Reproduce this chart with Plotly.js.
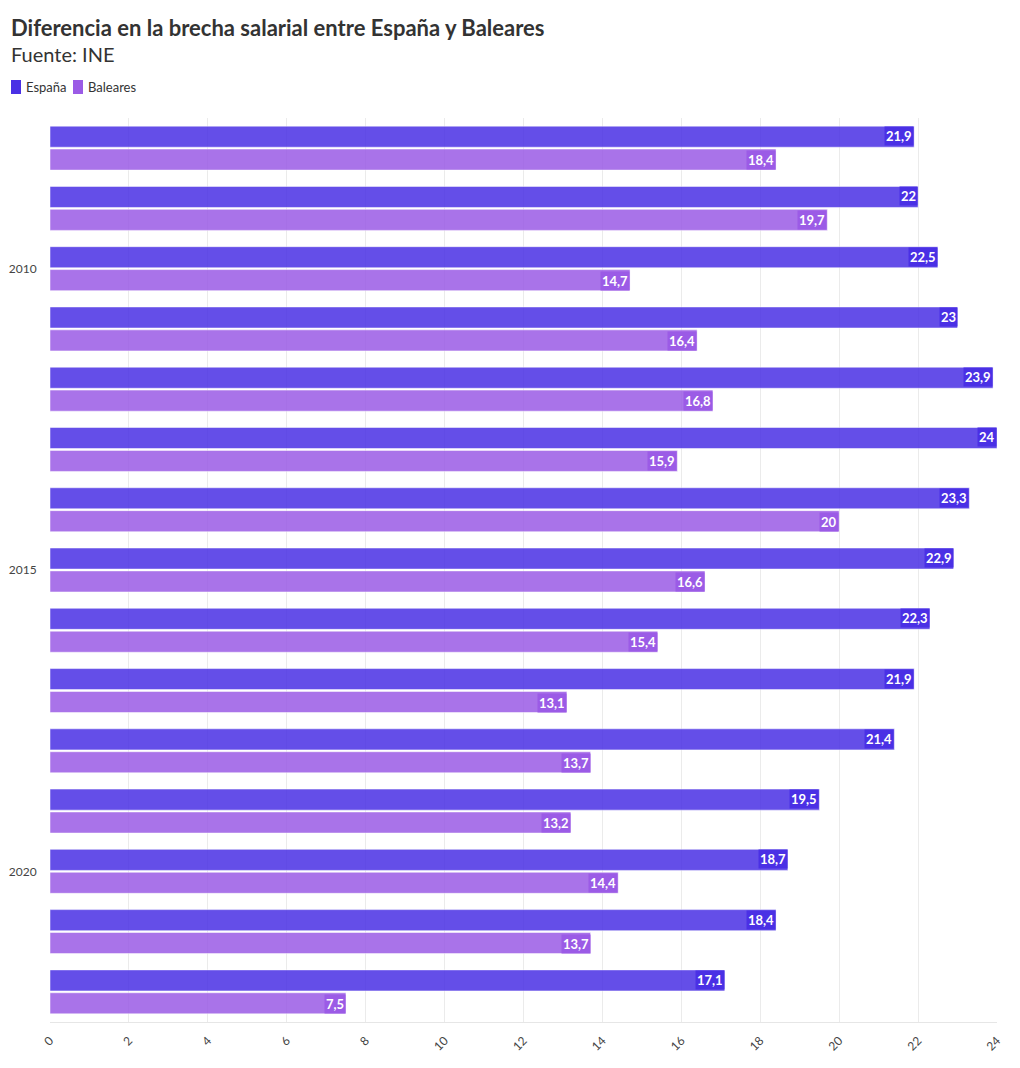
<!DOCTYPE html>
<html><head><meta charset="utf-8">
<script src="https://cdn.plot.ly/plotly-3.0.1.min.js"></script>
<style>body{margin:0;background:#fff}#chart{width:1020px;height:1068px}</style>
</head><body><div id="chart"></div>
<script>
const years = [2008,2009,2010,2011,2012,2013,2014,2015,2016,2017,2018,2019,2020,2021,2022];
const espana = [21.9,22,22.5,23,23.9,24,23.3,22.9,22.3,21.9,21.4,19.5,18.7,18.4,17.1];
const baleares = [18.4,19.7,14.7,16.4,16.8,15.9,20,16.6,15.4,13.1,13.7,13.2,14.4,13.7,7.5];
const xTicks = [0,2,4,6,8,10,12,14,16,18,20,22,24];
const yTicks = [2010,2015,2020];
const seriesNames = ['España','Baleares'];

const cEsp = '#4A30E5', cBal = '#9B5BE6';
const FONT = 'Lato, "Noto Sans", sans-serif';
const W = 1020, H = 1068, ML = 50, MR = 23, MT = 118, MB = 46;
const PW = W - ML - MR, PH = H - MT - MB;
const px = x => (x - ML) / PW;           // pixel -> paper x
const py = y => 1 - (y - MT) / PH;       // pixel -> paper y

const traces = [
  {type:'bar', orientation:'h', name:seriesNames[0], x:espana, y:years, showlegend:false,
   marker:{color:cEsp, opacity:0.85, line:{color:'rgba(255,255,255,0.5)', width:1}}, hoverinfo:'x'},
  {type:'bar', orientation:'h', name:seriesNames[1], x:baleares, y:years, showlegend:false,
   marker:{color:cBal, opacity:0.85, line:{color:'rgba(255,255,255,0.5)', width:1}}, hoverinfo:'x'}
];

const fmt = v => String(v).replace('.', ',');
const annotations = [];
years.forEach((yr,i)=>{
  annotations.push({x:espana[i], y:yr, xref:'x', yref:'y', xanchor:'right', yanchor:'middle', yshift:12,
    text:'<b>'+fmt(espana[i])+'</b>', showarrow:false, bgcolor:cEsp, borderpad:1,
    font:{family:FONT, size:13, color:'#fff'}});
  annotations.push({x:baleares[i], y:yr, xref:'x', yref:'y', xanchor:'right', yanchor:'middle', yshift:-12,
    text:'<b>'+fmt(baleares[i])+'</b>', showarrow:false, bgcolor:cBal, borderpad:1,
    font:{family:FONT, size:13, color:'#fff'}});
});
// titles
annotations.push({xref:'paper', yref:'paper', x:px(9), y:py(12), xanchor:'left', yanchor:'top', showarrow:false,
  text:'<b>Diferencia en la brecha salarial entre España y Baleares</b>', font:{family:FONT, size:22, color:'#333'}});
annotations.push({xref:'paper', yref:'paper', x:px(9), y:py(40), xanchor:'left', yanchor:'top', showarrow:false,
  text:'Fuente: INE', font:{family:FONT, size:20, color:'#333'}});
// legend
const legX = [[11,24],[73,86]];
const legC = [cEsp, cBal];
const shapes = [];
seriesNames.forEach((n,i)=>{
  shapes.push({type:'rect', xref:'paper', yref:'paper', x0:px(legX[i][0]), x1:px(legX[i][0]+10),
    y0:py(80), y1:py(94), fillcolor:legC[i], line:{width:0}});
  annotations.push({xref:'paper', yref:'paper', x:px(legX[i][1]), y:py(87), xanchor:'left', yanchor:'middle',
    showarrow:false, text:n, font:{family:FONT, size:13, color:'#333'}});
});

const layout = {
  width:W, height:H,
  paper_bgcolor:'#fff', plot_bgcolor:'#fff',
  font:{family:FONT, color:'#444', size:12},
  separators:',.',
  showlegend:false,
  margin:{l:ML, r:MR, t:MT, b:MB},
  barmode:'group', bargap:0.24, bargroupgap:0.08,
  xaxis:{range:[0,24], tickvals:xTicks, ticktext:xTicks.map(String), tickangle:-45,
    showgrid:true, gridcolor:'#ebebeb', zeroline:false, showline:true, linecolor:'#e6e6e6',
    ticks:'outside', ticklen:6, tickcolor:'rgba(0,0,0,0)',
    tickfont:{family:FONT, size:12, color:'#444'}, fixedrange:true},
  yaxis:{autorange:'reversed', tickvals:yTicks, ticktext:yTicks.map(String), showgrid:false,
    zeroline:false, tickfont:{family:FONT, size:12, color:'#444'},
    ticks:'outside', ticklen:10, tickcolor:'rgba(0,0,0,0)', fixedrange:true},
  annotations:annotations, shapes:shapes
};
Plotly.newPlot('chart', traces, layout, {displayModeBar:false, staticPlot:true});
</script></body></html>
